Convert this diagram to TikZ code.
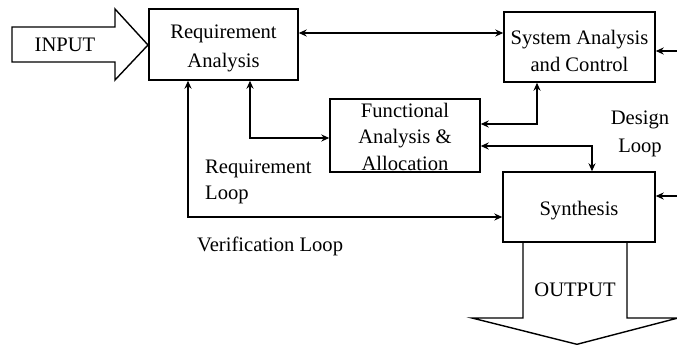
\documentclass[tikz,border=0pt]{standalone}
\usepackage{fontspec}
\setmainfont{Liberation Serif}
\usetikzlibrary{arrows.meta,calc}
\begin{document}
\begin{tikzpicture}[x=1pt,y=-1pt,
  every node/.style={font=\fontsize{20.6}{26.5}\selectfont, inner sep=0pt},
  blk/.style={draw, line width=1.4pt},
  txt/.style={align=center},
  conn/.style={line width=1.5pt, arrows={-Stealth[length=8pt,width=7pt]}},
  bconn/.style={line width=1.5pt, arrows={Stealth[length=8pt,width=7pt]-Stealth[length=8pt,width=7pt]}},
  bigarrow/.style={draw, line width=1.4pt, line join=miter, fill=white},
  lbl/.style={align=left}]
\useasboundingbox (0,0) rectangle (677,345);
% big arrows
\draw[bigarrow] (12,27) -- (115,27) -- (115,9) -- (148,45) -- (115,80) -- (115,62) -- (12,62) -- cycle;
\node (input) at (65,45) {INPUT};
\draw[bigarrow] (523,242) -- (523,318) -- (472,318) -- (577,344.3) -- (678,318) -- (627,318) -- (627,242);
\node (output) at (575,290) {OUTPUT};
% boxes
\node[blk, minimum width=149pt, minimum height=71pt] (RA) at (223.5,44.5) {};
\node[blk, minimum width=151pt, minimum height=70pt] (SAC) at (579.5,47) {};
\node[blk, minimum width=150pt, minimum height=73pt] (FA) at (405,135.5) {};
\node[blk, minimum width=152pt, minimum height=70pt] (SYN) at (579,207) {};
% box texts
\node[txt, font=\fontsize{20.6}{28.5}\selectfont] (RAt) at ([yshift=-4pt]RA.center) {Requirement\\Analysis};
\node[txt, font=\fontsize{20.6}{27}\selectfont] (SACt) at ([yshift=-3.5pt]SAC.center) {System Analysis\\and Control};
\node[txt] (FAt) at ([yshift=-1pt]FA.center) {Functional\\Analysis \&\\Allocation};
\node[txt] (SYNt) at ([yshift=-4pt]SYN.center) {Synthesis};
% labels
\node[lbl, anchor=west] (rl) at (205,182) {Requirement\\Loop};
\node[lbl, anchor=west] (vl) at (197,246) {Verification Loop};
\node[align=center, font=\fontsize{20.6}{28}\selectfont] (dl) at (640,134) {Design\\Loop};
% connectors
\coordinate (inS) at (677,51);
\coordinate (inY) at (677,196);
\draw[bconn] ([yshift=11.5pt]RA.east) -- ([yshift=11.5pt]RA.east -| SAC.west);
\draw[conn] (inS) -- (inS -| SAC.east);
\draw[bconn] ([xshift=-42.5pt]SAC.south) |- ([yshift=11.5pt]FA.east);
\draw[bconn] ([yshift=-10.5pt]FA.east) -| ([xshift=13pt]SYN.north);
\draw[conn] (inY) -- (inY -| SYN.east);
\draw[bconn] ([xshift=26.5pt]RA.south) |- ([yshift=-2.5pt]FA.west);
\draw[bconn] ([xshift=-35.5pt]RA.south) |- ([yshift=-10pt]SYN.west);
\end{tikzpicture}
\end{document}
